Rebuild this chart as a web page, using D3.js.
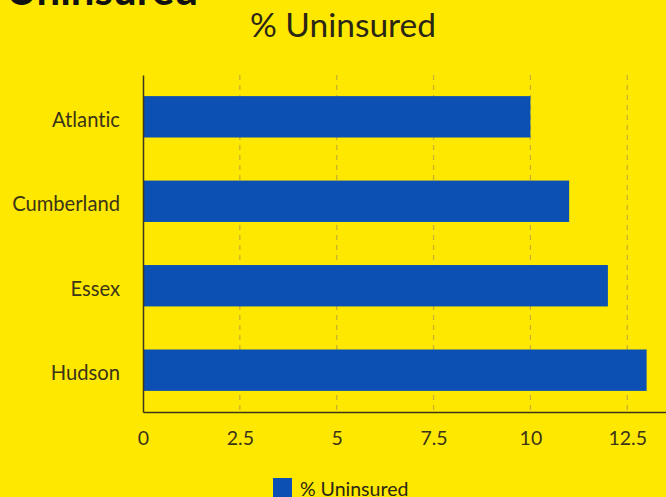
<!DOCTYPE html>
<html>
<head>
<meta charset="utf-8">
<script src="https://cdn.jsdelivr.net/npm/d3@7"></script>
<style>
  body { margin: 0; background: #ffe800; overflow: hidden; }
  svg { display: block; font-family: Lato, sans-serif; font-variant-ligatures: none; }
</style>
</head>
<body>
<svg></svg>
<script>
let width = 666;
let height = 497;

// chart data
let counties = ['Atlantic', 'Cumberland', 'Essex', 'Hudson'];
let uninsured = [10, 11, 12, 13];
let xTicks = [0, 2.5, 5, 7.5, 10, 12.5];
let seriesName = '% Uninsured';

let svg = d3.select('svg')
    .attr('width', width)
    .attr('height', height);

svg.append('rect')
    .attr('width', width)
    .attr('height', height)
    .attr('fill', '#ffe800');

let margin = {left: 143, top: 75, bottom: 85};

let x = d3.scaleLinear()
    .domain([0, 13.5])
    .range([margin.left, width]);

let y = d3.scaleBand()
    .domain(counties)
    .range([margin.top, height - margin.bottom])
    .paddingInner(0.51)
    .paddingOuter(0.25);

// clipped headline at the very top
svg.append('text')
    .attr('x', 198)
    .attr('y', 5)
    .attr('text-anchor', 'end')
    .attr('font-size', 42)
    .attr('font-weight', 'bold')
    .attr('fill', '#111')
    .text('Uninsured');

// chart title
svg.append('text')
    .attr('x', 343)
    .attr('y', 37)
    .attr('text-anchor', 'middle')
    .attr('font-size', 33.5)
    .attr('fill', '#2a2616')
    .text(seriesName);

// dashed grid lines
svg.append('g')
    .selectAll('line')
    .data(xTicks.slice(1))
    .join('line')
    .attr('x1', d => x(d))
    .attr('x2', d => x(d))
    .attr('y1', margin.top)
    .attr('y2', height - margin.bottom)
    .attr('stroke', '#c8b22e')
    .attr('stroke-width', 1.3)
    .attr('stroke-dasharray', '5,5');

// bars
svg.append('g')
    .selectAll('rect')
    .data(counties)
    .join('rect')
    .attr('x', x(0))
    .attr('y', d => y(d))
    .attr('width', (d, i) => x(uninsured[i]) - x(0))
    .attr('height', y.bandwidth())
    .attr('fill', '#0b50b2');

// x axis
let xAxis = svg.append('g')
    .attr('transform', `translate(0,${height - margin.bottom})`)
    .call(d3.axisBottom(x).tickValues(xTicks).tickSize(0).tickPadding(19)
        .tickFormat(d3.format('~g')));
xAxis.select('.domain').attr('stroke', '#3a3418').attr('stroke-width', 1.5);
xAxis.selectAll('text')
    .attr('font-size', 19.5)
    .attr('font-family', 'Lato, sans-serif')
    .attr('fill', '#3a3418');

// y axis
let yAxis = svg.append('g')
    .attr('transform', `translate(${margin.left},0)`)
    .call(d3.axisLeft(y).tickSize(0).tickPadding(23));
yAxis.select('.domain').attr('stroke', '#3a3418').attr('stroke-width', 1.5);
yAxis.selectAll('text')
    .attr('font-size', 20.2)
    .attr('dy', '0.5em')
    .attr('font-family', 'Lato, sans-serif')
    .attr('fill', '#3a3418');

// legend
let legend = svg.append('g')
    .attr('transform', 'translate(273,478)');
legend.append('rect')
    .attr('width', 19)
    .attr('height', 19)
    .attr('fill', '#0b50b2');
legend.append('text')
    .attr('x', 27)
    .attr('y', 18)
    .attr('font-size', 19.5)
    .attr('fill', '#2a2616')
    .text(seriesName);
</script>
</body>
</html>
